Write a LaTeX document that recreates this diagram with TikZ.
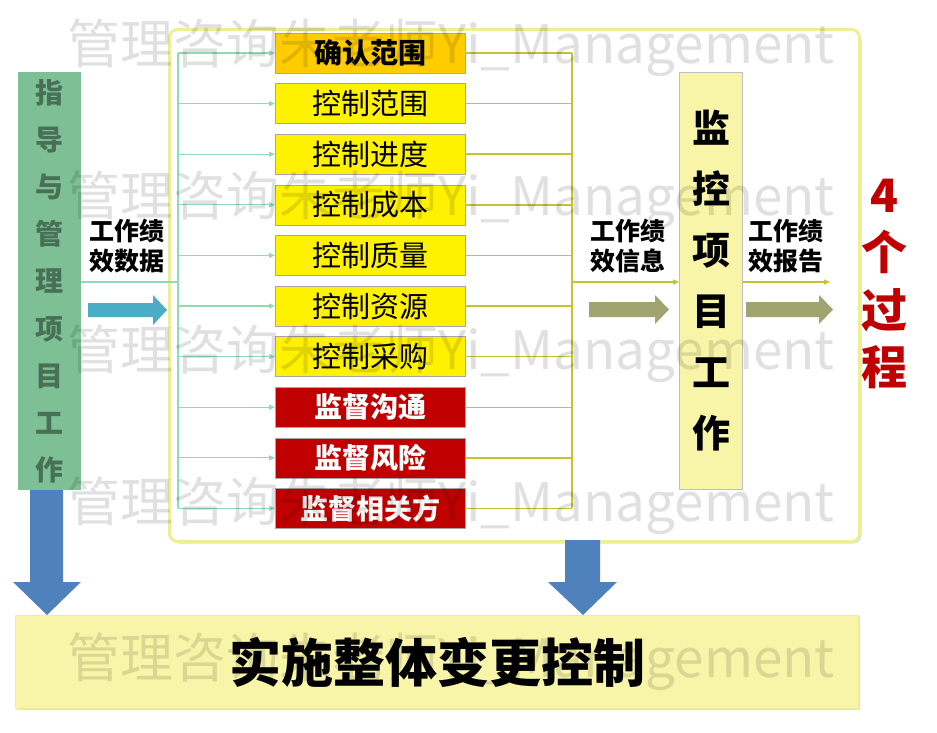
\documentclass[tikz,border=0pt]{standalone}
\usepackage{fontspec}
\setmainfont{Noto Sans CJK SC}
\newfontfamily\heavy{Noto Sans CJK SC Black}
\usetikzlibrary{arrows.meta,shadows}
\definecolor{gbox}{RGB}{125,192,150}
\definecolor{gtext}{RGB}{72,112,86}
\definecolor{gline}{RGB}{140,220,180}
\definecolor{oline}{RGB}{196,196,48}
\definecolor{olivearrow}{RGB}{160,164,112}
\definecolor{tealarrow}{RGB}{75,172,198}
\definecolor{bluearrow}{RGB}{79,129,189}
\definecolor{lyellow}{RGB}{248,245,168}
\definecolor{framecol}{RGB}{238,238,150}
\definecolor{goldbox}{RGB}{255,204,0}
\definecolor{dred}{RGB}{192,0,0}
\begin{document}
\begin{tikzpicture}[x=1pt,y=-1pt,
  procbox/.style={minimum width=190, minimum height=40, inner sep=0, outer sep=0, draw=black!35, line width=0.6pt},
  ctrlbox/.style={procbox, fill=yellow, font=\fontsize{29}{30}\selectfont},
  confbox/.style={procbox, fill=goldbox, font=\heavy\fontsize{28}{30}\selectfont},
  monbox/.style={procbox, fill=dred, text=white, font=\heavy\fontsize{28}{30}\selectfont},
  gl/.style={draw=gline, line width=1.2pt},
  ol/.style={draw=oline, line width=1.4pt},
  tip/.style={-{Triangle[length=6pt,width=5pt]}},
  lbl/.style={align=center, font=\heavy\fontsize{25}{30}\selectfont, inner sep=0},
  wm/.style={text=black, text opacity=0.12, font=\fontsize{53}{60}\selectfont, inner sep=0}
]
\useasboundingbox (0,0) rectangle (937,733);

% outer frame
\node[draw=framecol, line width=3pt, rounded corners=8pt, fill=white, minimum width=690, minimum height=512, inner sep=0, anchor=north west,
  drop shadow={shadow xshift=2pt, shadow yshift=-2pt, opacity=0.25}] (frame) at (168,28) {};

% guide box
\node[fill=gbox, minimum width=63, minimum height=418, inner sep=0, anchor=north west, align=center,
  text=gtext, font=\heavy\fontsize{28}{47.2}\selectfont] (guide) at (18,72)
  {指\\导\\与\\管\\理\\项\\目\\工\\作};

% process boxes
\node[confbox] (b0) at (370,53) {确认范围};
\node[ctrlbox] (b1) at (370,103.6) {控制范围};
\node[ctrlbox] (b2) at (370,154.2) {控制进度};
\node[ctrlbox] (b3) at (370,204.8) {控制成本};
\node[ctrlbox] (b4) at (370,255.4) {控制质量};
\node[ctrlbox] (b5) at (370,306) {控制资源};
\node[ctrlbox] (b6) at (370,356.6) {控制采购};
\node[monbox] (b7) at (370,407.2) {监督沟通};
\node[monbox] (b8) at (370,457.8) {监督风险};
\node[monbox] (b9) at (370,508.4) {监督相关方};

% monitor box
\node[fill=lyellow, draw=black!25, line width=0.6pt, minimum width=63, minimum height=417, inner sep=0, align=center,
  font=\heavy\fontsize{38}{61}\selectfont] (mon) at (711,281) {监\\控\\项\\目\\工\\作};

% green bus
\coordinate (busL) at (178,282);
\draw[gl] (guide.east |- busL) -- (busL);
\draw[gl] (busL |- b0.west) -- (busL |- b9.west);
\foreach \i in {0,...,9} {\draw[gl,tip] (busL |- b\i.west) -- (b\i.west);}

% olive bus
\coordinate (busR) at (572,282);
\foreach \i in {0,...,9} {\draw[ol] (b\i.east) -- (busR |- b\i.east);}
\draw[ol] (busR |- b0.east) -- (busR |- b9.east);
\draw[ol,tip] (busR) -- (mon.west |- busR);
\coordinate (rEnd) at (830,282);
\draw[ol,tip] (mon.east |- busR) -- (rEnd);

% labels
\node[lbl] (l1) at (127,246) {工作绩\\效数据};
\node[lbl] (l2) at (628,246) {工作绩\\效信息};
\node[lbl] (l3) at (786,246) {工作绩\\效报告};
\node[align=center, text=dred, inner sep=0, font=\heavy\fontsize{46}{57.5}\selectfont] (four) at (884,284) {4\\个\\过\\程};

% block arrows
\fill[tealarrow] (88,303) -- (153,303) -- (153,295) -- (167,310) -- (153,325) -- (153,317) -- (88,317) -- cycle;
\fill[olivearrow] (589,302) -- (655,302) -- (655,295) -- (669,309.5) -- (655,324) -- (655,317) -- (589,317) -- cycle;
\fill[olivearrow] (746,302) -- (819,302) -- (819,295) -- (833,309.5) -- (819,324) -- (819,317) -- (746,317) -- cycle;

% bottom box
\node[fill=lyellow, draw=framecol, line width=1pt, minimum width=843, minimum height=93, inner sep=0, anchor=north west,
  drop shadow={shadow xshift=1.5pt, shadow yshift=-1.5pt, opacity=0.25}] (chg) at (15,615) {};
\node[font=\heavy\fontsize{52}{60}\selectfont, inner sep=0] (chgt) at (437,662) {实施整体变更控制};

% blue arrows
\fill[bluearrow] (30,490) -- (63,490) -- (63,582) -- (81,582) -- (47,615) -- (13,582) -- (30,582) -- cycle;
\fill[bluearrow] (565,540) -- (600,540) -- (600,582) -- (617,582) -- (583,615) -- (548,582) -- (565,582) -- cycle;

% watermark
\foreach \y/\n in {48/w1,200/w2,354/w3,506/w4,662/w5} {\node[wm] (\n) at (451,\y) {管理咨询朱老师Yi\_Management};}
\end{tikzpicture}
\end{document}
